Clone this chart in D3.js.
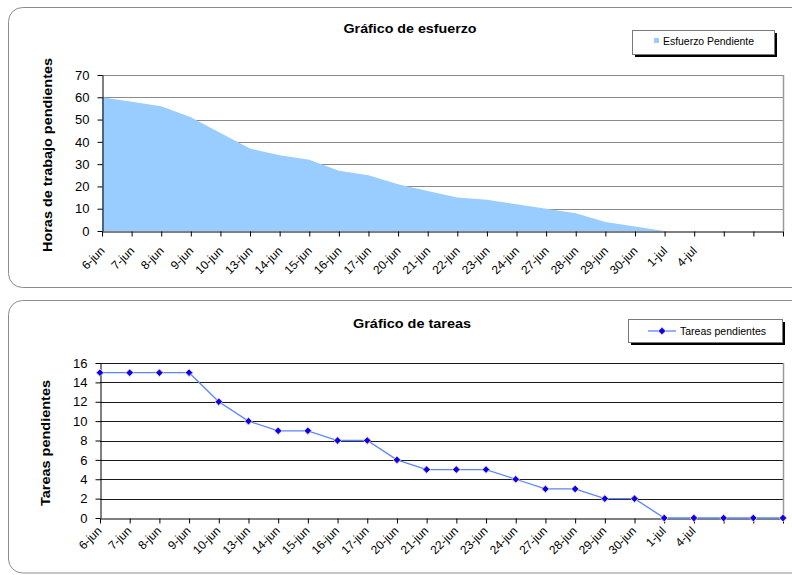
<!DOCTYPE html>
<html>
<head>
<meta charset="utf-8">
<script src="https://cdn.jsdelivr.net/npm/d3@7"></script>
<style>
  html, body { margin: 0; padding: 0; background: #fff; }
  svg { display: block; font-family: "Liberation Sans", Arial, sans-serif; }
</style>
</head>
<body>
<svg id="chart" width="792" height="575"></svg>
<script>
// Fechas del seguimiento (las tres últimas categorías quedan sin rótulo)
const fechas = ["6-jun","7-jun","8-jun","9-jun","10-jun","13-jun","14-jun","15-jun","16-jun","17-jun",
                "20-jun","21-jun","22-jun","23-jun","24-jun","27-jun","28-jun","29-jun","30-jun","1-jul","4-jul","","",""];
// Horas de trabajo pendientes por fecha
const esfuerzo = [60,58,56,51,44,37,34,32,27,25,21,18,15,14,12,10,8,4,2,0,0,0,0,0];
// Tareas pendientes por fecha
const tareas = [15,15,15,15,12,10,9,9,8,8,6,5,5,5,4,3,3,2,2,0,0,0,0,0];
// Marcas de los ejes verticales
const ticksEsfuerzo = [0,10,20,30,40,50,60,70];
const ticksTareas = [0,2,4,6,8,10,12,14,16];

const svg = d3.select("#chart");
const idx = d3.range(fechas.length);

// Marcos redondeados de cada gráfico
svg.append("rect").attr("x", 8.5).attr("y", 7.5).attr("width", 800).attr("height", 280)
  .attr("rx", 14).attr("fill", "#fff").attr("stroke", "#8c8c8c");
svg.append("rect").attr("x", 8.5).attr("y", 300.5).attr("width", 800).attr("height", 272.5)
  .attr("rx", 14).attr("fill", "#fff").attr("stroke", "#8c8c8c");

function drawFrame(g, x, y, yTicks, gridColor, frameColor) {
  const [x0, x1] = x.range();
  const [y0, y1] = y.range();
  // líneas de división horizontales
  g.append("g").selectAll("line").data(yTicks.filter(t => t > 0)).join("line")
    .attr("x1", x0).attr("x2", x1)
    .attr("y1", d => Math.round(y(d)) + 0.5).attr("y2", d => Math.round(y(d)) + 0.5)
    .attr("stroke", gridColor).attr("stroke-width", 1);
  // borde derecho del área de trazado
  g.append("line").attr("x1", x1 + 0.5).attr("x2", x1 + 0.5).attr("y1", y1).attr("y2", y0)
    .attr("stroke", frameColor).attr("stroke-width", 1.5);
}

function drawAxes(g, x, y, yTicks, labelDx, labelDy) {
  const [x0, x1] = x.range();
  const y0 = y.range()[0];
  const ya = g.append("g").attr("transform", `translate(${x0 + 0.5},0)`)
    .call(d3.axisLeft(y).tickValues(yTicks).tickSize(5).tickSizeOuter(0).tickPadding(8));
  ya.select(".domain").attr("stroke", "#000");
  ya.selectAll(".tick line").attr("stroke", "#000");
  ya.selectAll(".tick text").attr("font-size", 13).attr("fill", "#000")
    .attr("font-family", "Liberation Sans, Arial, sans-serif");

  const xa = g.append("g").attr("transform", `translate(0,${Math.round(y0) + 0.5})`)
    .call(d3.axisBottom(x).tickSize(5).tickSizeOuter(0).tickFormat(i => fechas[i]));
  xa.select(".domain").attr("stroke", "#000");
  xa.selectAll(".tick line").attr("stroke", "#000");
  xa.selectAll(".tick text")
    .attr("font-size", 12).attr("fill", "#000")
    .attr("font-family", "Liberation Sans, Arial, sans-serif")
    .attr("text-anchor", "end")
    .attr("x", 0).attr("y", 0).attr("dy", 0)
    .attr("transform", `translate(${labelDx},${labelDy}) rotate(-45)`);
}

function title(txt, cx, y, len) {
  svg.append("text").attr("x", cx).attr("y", y).attr("text-anchor", "middle")
    .attr("font-size", 12).attr("font-weight", "bold")
    .attr("textLength", len).attr("lengthAdjust", "spacingAndGlyphs").text(txt);
}
function yTitle(txt, cx, cy, len) {
  svg.append("text").attr("transform", `translate(${cx},${cy}) rotate(-90)`)
    .attr("text-anchor", "middle").attr("font-size", 13).attr("font-weight", "bold")
    .attr("textLength", len).attr("lengthAdjust", "spacingAndGlyphs").text(txt);
}
function legendBox(x, y, w, h) {
  svg.append("rect").attr("x", x + 3).attr("y", y + 3).attr("width", w).attr("height", h).attr("fill", "#000");
  svg.append("rect").attr("x", x + 0.5).attr("y", y + 0.5).attr("width", w).attr("height", h)
    .attr("fill", "#fff").attr("stroke", "#7a7a7a");
}
// marcador en rombo (cuadrado girado)
const diamond = "M0,-3.8L3.8,0L0,3.8L-3.8,0Z";

// ---------- Gráfico de esfuerzo ----------
const x1 = d3.scalePoint().domain(idx).range([102, 783]);
const y1 = d3.scaleLinear().domain([0, 70]).range([231, 75]);
const g1 = svg.append("g");
drawFrame(g1, x1, y1, ticksEsfuerzo, "#8a8a8a", "#9a9a9a");
g1.append("path").datum(esfuerzo)
  .attr("d", d3.area().x((d, i) => x1(i)).y0(y1(0)).y1(d => y1(d)))
  .attr("fill", "#99ccff");
drawAxes(g1, x1, y1, ticksEsfuerzo, 3, 20);
title("Gráfico de esfuerzo", 410, 33, 133);
yTitle("Horas de trabajo pendientes", 52, 155, 194);
legendBox(632, 30, 142, 24);
svg.append("rect").attr("x", 654).attr("y", 38).attr("width", 5).attr("height", 5).attr("fill", "#99ccff");
svg.append("text").attr("x", 663).attr("y", 45).attr("font-size", 10)
  .attr("textLength", 91).attr("lengthAdjust", "spacingAndGlyphs").text("Esfuerzo Pendiente");

// ---------- Gráfico de tareas ----------
const x2 = d3.scalePoint().domain(idx).range([100, 783]);
const y2 = d3.scaleLinear().domain([0, 16]).range([518, 363]);
const g2 = svg.append("g");
drawFrame(g2, x2, y2, ticksTareas, "#1a1a1a", "#9a9a9a");
drawAxes(g2, x2, y2, ticksTareas, 2, 13);
g2.append("path").datum(tareas)
  .attr("d", d3.line().x((d, i) => x2(i)).y(d => y2(d)))
  .attr("fill", "none").attr("stroke", "#5a85ff").attr("stroke-width", 1.3);
g2.append("g").selectAll("path").data(tareas).join("path")
  .attr("transform", (d, i) => `translate(${x2(i)},${y2(d)})`)
  .attr("d", diamond).attr("fill", "#0000ff").attr("stroke", "#ffc89a").attr("stroke-width", 1);
title("Gráfico de tareas", 412, 328, 118);
yTitle("Tareas pendientes", 50, 443, 126);
legendBox(628, 319, 154, 23);
svg.append("line").attr("x1", 648).attr("x2", 676).attr("y1", 331).attr("y2", 331)
  .attr("stroke", "#5a85ff").attr("stroke-width", 1.3);
svg.append("path").attr("transform", "translate(662,331)").attr("d", diamond)
  .attr("fill", "#0000ff").attr("stroke", "#ffc89a").attr("stroke-width", 1);
svg.append("text").attr("x", 680).attr("y", 334.5).attr("font-size", 10)
  .attr("textLength", 86).attr("lengthAdjust", "spacingAndGlyphs").text("Tareas pendientes");
</script>
</body>
</html>
